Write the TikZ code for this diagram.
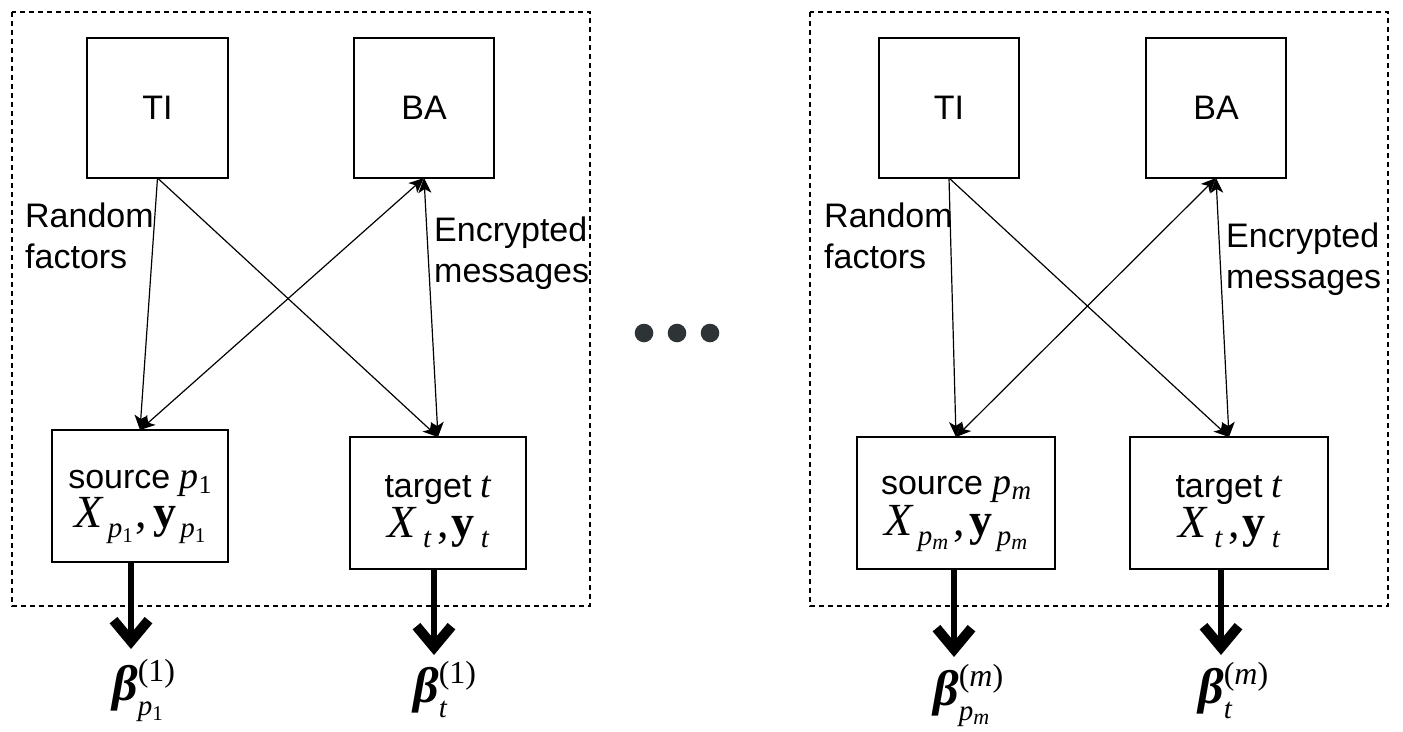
\documentclass[tikz,border=0pt]{standalone}
\usepackage{fontspec}
\setmainfont{Liberation Sans}
\newfontfamily\tms{Liberation Serif}
\usetikzlibrary{arrows.meta}
\definecolor{dotc}{HTML}{2E3436}
\newcommand\mitx[2]{{\fontsize{#1}{#1}\selectfont\tms\itshape #2}}
\newcommand\rmx[2]{{\fontsize{#1}{#1}\selectfont\tms #2}}
\newcommand\bfx[2]{{\fontsize{#1}{#1}\selectfont\tms\bfseries #2}}
\newcommand\lowr[2]{\raisebox{-#1}{#2}}
\newcommand\pone{\mitx{29}{p}\lowr{5pt}{\rmx{21}{1}}}
\newcommand\pem{\mitx{29}{p}\lowr{4pt}{\mitx{22}{m}}}
\newcommand\tsub{\mitx{29}{t}}
\newcommand\betal[2]{\bfx{50}{\itshape β}\rlap{\raisebox{19pt}{#1}}\lowr{15pt}{#2}}
\newcommand\topstrut{\rule{0pt}{40pt}}
\newcommand\gp[1]{\hspace{#1pt}}
\tikzset{
  box/.style={draw, line width=1.5pt, inner sep=0pt, outer sep=0pt, font=\fontsize{34}{37}\selectfont, align=center},
  thinarr/.style={line width=1.2pt, -{Stealth[length=15pt,width=13pt,inset=4pt]}},
  botharr/.style={line width=1.2pt, {Stealth[length=15pt,width=13pt,inset=4pt]}-{Stealth[length=15pt,width=13pt,inset=4pt]}},
  thickarr/.style={line width=6.5pt, -{Straight Barb[length=21pt,width=35pt,line width=10pt]}},
  frame/.style={draw, dash pattern=on 5pt off 4pt, line width=1.2pt},
  lbl/.style={font=\fontsize{34}{41}\selectfont, align=left, inner sep=0pt},
  betanode/.style={inner sep=0pt, anchor=base west}
}
\begin{document}
\begin{tikzpicture}[x=1pt,y=-1pt]
\useasboundingbox (0,0) rectangle (1403,731);
% frames
\draw[frame] (12,12) rectangle (590,606);
\draw[frame] (810,12) rectangle (1388,606);
% left panel
\node[box, minimum width=141pt, minimum height=140pt] (TIa) at (157.5,108) {TI};
\node[box, minimum width=140pt, minimum height=140pt] (BAa) at (424,108) {BA};
\node[box, minimum width=176pt, minimum height=132pt] (srca) at (140,496)
  {\topstrut source \mitx{38}{p}\lowr{5pt}{\rmx{26}{1}}\\
   \mitx{46}{X}\gp{5}\lowr{10pt}{\pone}\gp{3}\rmx{46}{,}\gp{6}\bfx{46}{y}\gp{4}\lowr{10pt}{\pone}};
\node[box, minimum width=176pt, minimum height=132pt] (tgta) at (438,503)
  {\topstrut target \mitx{38}{t}\\[2pt]
   \mitx{46}{X}\gp{8}\lowr{10pt}{\tsub}\gp{6}\rmx{46}{,}\gp{3}\bfx{46}{y}\gp{6}\lowr{10pt}{\tsub}};
\node[lbl, anchor=base west] (rfa) at (25,268) {Random\\factors};
\node[lbl, anchor=base west] (ema) at (434,282) {Encrypted\\messages};
\draw[thinarr] (TIa.south) -- (srca.north);
\draw[thinarr] (TIa.south) -- (tgta.north);
\draw[botharr] (BAa.south) -- (srca.north);
\draw[botharr] (BAa.south) -- (tgta.north);
\coordinate (sea) at (131,649);
\coordinate (tea) at (434,655);
\draw[thickarr] ([xshift=-9pt]srca.south) -- (sea);
\draw[thickarr] ([xshift=-4pt]tgta.south) -- (tea);
\node[betanode] (bsa) at (112,700) {\betal{\rmx{32}{(1)}}{\pone}};
\node[betanode] (bta) at (413,702) {\betal{\rmx{32}{(1)}}{\tsub}};
% dots
\fill[dotc] (644,333) circle (9.3);
\fill[dotc] (677,333) circle (9.3);
\fill[dotc] (710,333) circle (9.3);
% right panel
\node[box, minimum width=140pt, minimum height=140pt] (TIb) at (949,108) {TI};
\node[box, minimum width=140pt, minimum height=140pt] (BAb) at (1216,108) {BA};
\node[box, minimum width=198pt, minimum height=132pt] (srcb) at (956,503)
  {\topstrut source \mitx{38}{p}\lowr{5pt}{\mitx{27}{m}}\\[2pt]
   \mitx{46}{X}\gp{5}\lowr{10pt}{\pem}\gp{5}\rmx{46}{,}\gp{5}\bfx{46}{y}\gp{4}\lowr{10pt}{\pem}};
\node[box, minimum width=198pt, minimum height=132pt] (tgtb) at (1229,503)
  {\topstrut target \mitx{38}{t}\\[2pt]
   \mitx{46}{X}\gp{8}\lowr{10pt}{\tsub}\gp{6}\rmx{46}{,}\gp{3}\bfx{46}{y}\gp{6}\lowr{10pt}{\tsub}};
\node[lbl, anchor=base west] (rfb) at (824,268) {Random\\factors};
\node[lbl, anchor=base west] (emb) at (1226,288) {Encrypted\\messages};
\draw[thinarr] (TIb.south) -- (srcb.north);
\draw[thinarr] (TIb.south) -- (tgtb.north);
\draw[botharr] (BAb.south) -- (srcb.north);
\draw[botharr] (BAb.south) -- (tgtb.north);
\coordinate (seb) at (954,657);
\coordinate (teb) at (1221,655);
\draw[thickarr] ([xshift=-2pt]srcb.south) -- (seb);
\draw[thickarr] ([xshift=-8pt]tgtb.south) -- (teb);
\node[betanode] (bsb) at (933,705) {\betal{\rmx{32}{(\mitx{32}{m})}}{\pem}};
\node[betanode] (btb) at (1198,703) {\betal{\rmx{32}{(\mitx{32}{m})}}{\tsub}};
\end{tikzpicture}
\end{document}
